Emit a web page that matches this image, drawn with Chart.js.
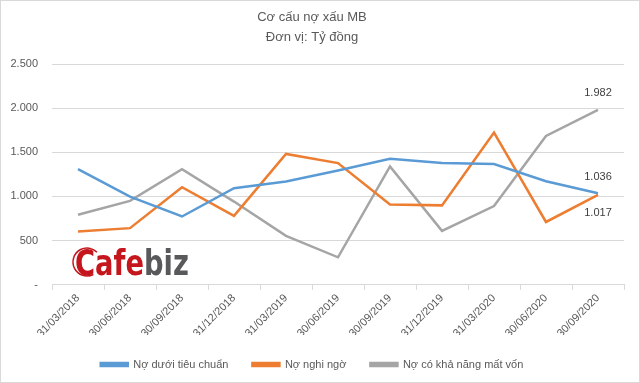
<!DOCTYPE html>
<html>
<head>
<meta charset="utf-8">
<script src="https://cdn.jsdelivr.net/npm/chart.js@4"></script>
<style>
  html, body { margin: 0; padding: 0; background: #fff; }
  #wrap { width: 640px; height: 383px; position: relative; }
</style>
</head>
<body>
<div id="wrap"><canvas id="noXauChart"></canvas></div>
<script>
const quarters = ['31/03/2018', '30/06/2018', '30/09/2018', '31/12/2018', '31/03/2019', '30/06/2019',
                  '30/09/2019', '31/12/2019', '31/03/2020', '30/06/2020', '30/09/2020'];
const noDuoiTieuChuan = [1309, 999, 773, 1094, 1169, 1293, 1427, 1378, 1367, 1172, 1036];
const noNghiNgo = [603, 641, 1105, 780, 1482, 1378, 910, 899, 1723, 711, 1017];
const noMatVon = [792, 950, 1309, 942, 554, 311, 1341, 610, 891, 1685, 1982];
const seriesNames = ['Nợ dưới tiêu chuẩn', 'Nợ nghi ngờ', 'Nợ có khả năng mất vốn'];
const seriesColors = ['#5b9bd5', '#ed7d31', '#a5a5a5'];

const textColor = '#595959';
const fontFamily = "'Liberation Sans', Arial, sans-serif";

function fmt(v) {
    if (v === 0) return '-';
    return v.toLocaleString('en-US').replace(/,/g, '.');
}

// nhãn giá trị ở điểm cuối + logo + viền
const extras = {
    id: 'extras',
    beforeDatasetsDraw(chart) {
        const ctx = chart.ctx;
        ctx.save();
        ctx.translate(75, 275);
        ctx.scale(0.76, 1);
        ctx.textBaseline = 'alphabetic';
        ctx.font = "bold 36px 'DejaVu Sans', sans-serif";
        ctx.fillStyle = '#c4161c';
        ctx.fillText('Cafe', 0, 0);
        const w = ctx.measureText('Cafe').width;
        ctx.fillStyle = '#58595b';
        ctx.fillText('biz', w, 0);
        ctx.restore();
        // vòng cung quanh chữ C
        ctx.save();
        ctx.strokeStyle = '#c4161c';
        ctx.lineWidth = 1.5;
        ctx.beginPath();
        ctx.arc(87, 262, 14, Math.PI * 0.35, Math.PI * 1.75);
        ctx.stroke();
        ctx.restore();
    },
    afterDatasetsDraw(chart) {
        const ctx = chart.ctx;
        ctx.save();
        ctx.font = '11px ' + fontFamily;
        ctx.fillStyle = '#404040';
        ctx.textAlign = 'center';
        ctx.textBaseline = 'middle';
        const offsets = [-16, 18, -17];
        chart.data.datasets.forEach((ds, i) => {
            const meta = chart.getDatasetMeta(i);
            const last = meta.data[meta.data.length - 1];
            const v = ds.data[ds.data.length - 1];
            ctx.fillText(fmt(v), last.x, last.y + offsets[i]);
        });
        ctx.restore();
    },
    afterDraw(chart) {
        const ctx = chart.ctx;
        ctx.save();
        ctx.strokeStyle = '#d9d9d9';
        ctx.lineWidth = 1;
        ctx.strokeRect(0.5, 0.5, chart.width - 1, chart.height - 1);
        ctx.restore();
    }
};

const datasets = [noDuoiTieuChuan, noNghiNgo, noMatVon].map((vals, i) => ({
    label: seriesNames[i],
    data: vals,
    borderColor: seriesColors[i],
    backgroundColor: seriesColors[i],
    borderWidth: 2.5,
    pointRadius: 0,
    tension: 0
}));

new Chart(document.getElementById('noXauChart'), {
    type: 'line',
    data: { labels: quarters, datasets: datasets },
    options: {
        responsive: true,
        maintainAspectRatio: false,
        animation: false,
        layout: { padding: { left: 0, right: 16, top: 0, bottom: 3 } },
        scales: {
            x: {
                offset: true,
                afterFit: (scale) => { scale.height = scale.height - 7; },
                grid: { offset: true, drawOnChartArea: false, drawTicks: true, tickLength: 5, color: '#d9d9d9' },
                border: { color: '#d9d9d9' },
                ticks: {
                    color: textColor, font: { family: fontFamily, size: 11 },
                    minRotation: 45, maxRotation: 45, padding: 2, autoSkip: false
                }
            },
            y: {
                min: 0,
                max: 2500,
                afterFit: (scale) => { scale.width = 52; },
                grid: { color: '#d9d9d9', drawTicks: false },
                border: { display: false },
                ticks: {
                    stepSize: 500, padding: 14,
                    color: textColor, font: { family: fontFamily, size: 11 },
                    callback: (v) => fmt(v)
                }
            }
        },
        plugins: {
            title: {
                display: true,
                text: ['Cơ cấu nợ xấu MB', 'Đơn vị: Tỷ đồng'],
                color: textColor,
                font: { family: fontFamily, size: 13, weight: 'normal', lineHeight: 1.54 },
                padding: { top: 7, bottom: 17 }
            },
            legend: {
                position: 'bottom',
                labels: {
                    color: textColor,
                    font: { family: fontFamily, size: 11 },
                    boxWidth: 27,
                    boxHeight: 3,
                    padding: 24
                }
            },
            tooltip: { enabled: false }
        }
    },
    plugins: [extras]
});
</script>
</body>
</html>
